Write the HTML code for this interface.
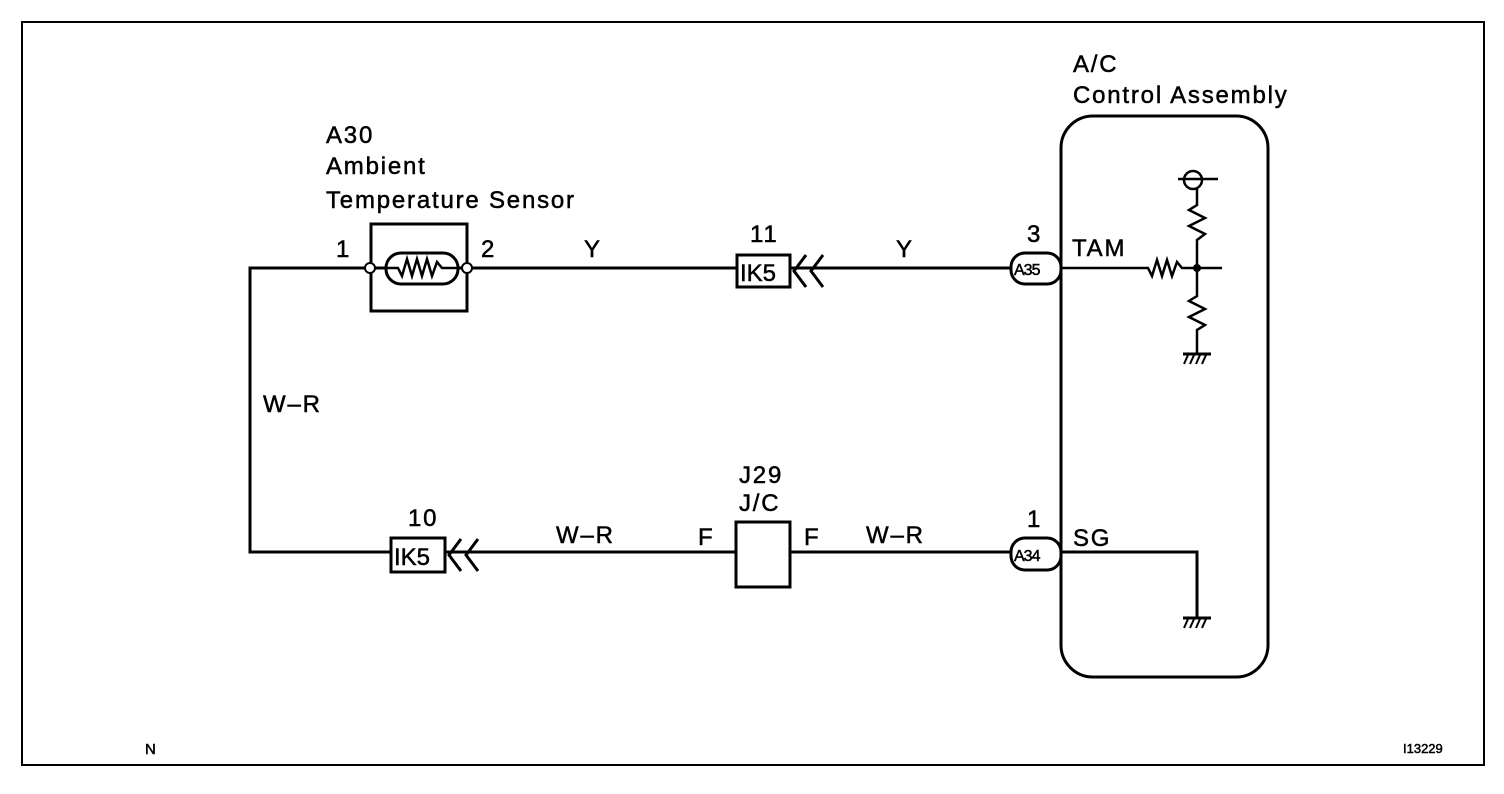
<!DOCTYPE html>
<html><head><style>
html,body{margin:0;padding:0;background:#fff;}
svg{display:block;}
text{font-family:"Liberation Sans",Arial,sans-serif;fill:#000;stroke:#000;stroke-width:0.5;}
</style></head><body>
<svg width="1504" height="794" viewBox="0 0 1504 794" xmlns="http://www.w3.org/2000/svg">
<rect x="22" y="22" width="1462" height="743" fill="none" stroke="#000" stroke-width="2"/>
<g stroke="#000" stroke-width="3" fill="none">
<polyline points="1061,268 250,268 250,552 1061,552"/>
<rect x="371" y="224" width="96" height="87" fill="#fff"/>
<line x1="371" y1="268" x2="467" y2="268"/>
<rect x="386" y="253" width="72" height="31" rx="15" fill="#fff"/>
<polyline stroke-width="2.5" points="386,268 398,268 402,276 407,259 412,276 417,259 422,276 427,259 432,276 437,262 442,268 458,268"/>
<circle cx="370" cy="268" r="5" fill="#fff" stroke-width="2"/>
<circle cx="467" cy="268" r="5" fill="#fff" stroke-width="2"/>
<rect x="737" y="255" width="53" height="32" fill="#fff"/>
<polyline points="806,255 794,271 806,287"/>
<polyline points="823,255 811,271 823,287"/>
<rect x="391" y="538" width="54" height="34" fill="#fff"/>
<polyline points="461,539 449,555 461,571"/>
<polyline points="478,539 466,555 478,571"/>
<rect x="736" y="522" width="54" height="65" fill="#fff"/>
<rect x="1061" y="116" width="207" height="561" rx="32"/>
<rect x="1011" y="253" width="50" height="31" rx="14" fill="#fff"/>
<rect x="1011" y="538" width="50" height="32" rx="14" fill="#fff"/>
<polyline stroke-width="2.5" points="1061,268 1148,268 1152,276 1157,260 1162,276 1167,260 1172,276 1177,262 1182,268 1222,268"/>
<circle cx="1197" cy="268" r="4" fill="#000" stroke="none"/>
<circle cx="1193" cy="180" r="9" stroke-width="2.5"/>
<line x1="1178" y1="179" x2="1218" y2="179" stroke-width="2.5"/>
<polyline stroke-width="2.5" points="1197,189 1197,205 1189,210 1205,218 1189,226 1205,234 1197,240 1197,296 1189,301 1205,309 1189,317 1205,325 1197,330 1197,354"/>
<line x1="1183" y1="354" x2="1211" y2="354" stroke-width="3"/>
<g stroke-width="2"><line x1="1188" y1="355" x2="1184" y2="364"/><line x1="1194" y1="355" x2="1190" y2="364"/><line x1="1200" y1="355" x2="1196" y2="364"/><line x1="1206" y1="355" x2="1202" y2="364"/></g>
<polyline points="1061,552 1197,552 1197,618"/>
<line x1="1183" y1="618" x2="1211" y2="618" stroke-width="3"/>
<g stroke-width="2"><line x1="1188" y1="619" x2="1184" y2="628"/><line x1="1194" y1="619" x2="1190" y2="628"/><line x1="1200" y1="619" x2="1196" y2="628"/><line x1="1206" y1="619" x2="1202" y2="628"/></g>
</g>
<g font-size="24" letter-spacing="1.8">
<text x="326" y="143">A30</text>
<text x="326" y="174">Ambient</text>
<text x="326" y="208">Temperature Sensor</text>
<text x="336" y="257">1</text>
<text x="481" y="257">2</text>
<text x="584" y="257">Y</text>
<text x="750" y="242">11</text>
<text x="896" y="257">Y</text>
<text x="1027" y="242">3</text>
<text x="1072" y="256">TAM</text>
<text x="1073" y="72">A/C</text>
<text x="1073" y="103">Control Assembly</text>
<text x="263" y="412">W–R</text>
<text x="408" y="526">10</text>
<text x="556" y="543">W–R</text>
<text x="698" y="545">F</text>
<text x="804" y="545">F</text>
<text x="739" y="483">J29</text>
<text x="739" y="511">J/C</text>
<text x="866" y="543">W–R</text>
<text x="1027" y="527">1</text>
<text x="1073" y="546">SG</text>
</g>
<g font-size="24">
<text x="740" y="281">IK5</text>
<text x="394" y="565">IK5</text>
</g>
<g font-size="16" letter-spacing="-1">
<text x="1014" y="275">A35</text>
<text x="1014" y="561">A34</text>
</g>
<text x="145" y="754" font-size="15">N</text>
<text x="1403" y="753" font-size="13">I13229</text>
</svg>
</body></html>
